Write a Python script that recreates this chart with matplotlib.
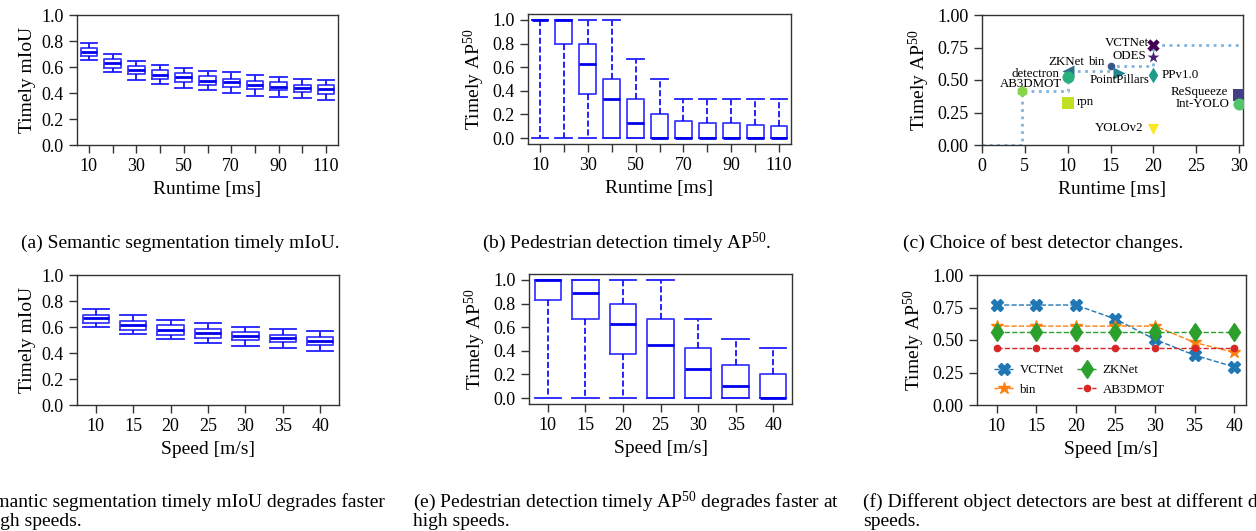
import numpy as np
import matplotlib
matplotlib.use('Agg')
import matplotlib.pyplot as plt

plt.rcParams['font.family'] = ['Liberation Serif', 'DejaVu Serif']
plt.rcParams['mathtext.fontset'] = 'custom'
plt.rcParams['mathtext.rm'] = 'Liberation Serif'
plt.rcParams['mathtext.it'] = 'Liberation Serif:italic'
plt.rcParams['mathtext.bf'] = 'Liberation Serif:bold'

# ---------------- data ----------------
runtime = [10, 20, 30, 40, 50, 60, 70, 80, 90, 100, 110]
speed = [10, 15, 20, 25, 30, 35, 40]

# (a) semantic segmentation timely mIoU vs runtime
a_whislo = [0.655, 0.56, 0.50, 0.468, 0.44, 0.42, 0.40, 0.38, 0.368, 0.36, 0.35]
a_q1 = [0.688, 0.596, 0.547, 0.506, 0.486, 0.463, 0.45, 0.43, 0.422, 0.409, 0.396]
a_med = [0.719, 0.63, 0.578, 0.54, 0.522, 0.496, 0.481, 0.463, 0.45, 0.44, 0.43]
a_q3 = [0.749, 0.66, 0.61, 0.575, 0.552, 0.529, 0.509, 0.494, 0.481, 0.465, 0.458]
a_whishi = [0.788, 0.70, 0.65, 0.616, 0.593, 0.573, 0.56, 0.537, 0.522, 0.51, 0.499]

# (b) pedestrian detection timely AP50 vs runtime
b_whislo = [0, 0, 0, 0, 0, 0, 0, 0, 0, 0, 0]
b_q1 = [1.0, 0.8, 0.37, 0, 0, 0, 0, 0, 0, 0, 0]
b_med = [1.0, 1.0, 0.625, 0.333, 0.125, 0, 0, 0, 0, 0, 0]
b_q3 = [1.0, 1.0, 0.8, 0.5, 0.333, 0.2, 0.143, 0.125, 0.125, 0.111, 0.1]
b_whishi = [1.0, 1.0, 1.0, 1.0, 0.667, 0.5, 0.333, 0.333, 0.333, 0.333, 0.333]

# (c) detectors: runtime [ms] and timely AP50
det_names = ['VCTNet', 'ODES', 'ReSqueeze', 'bin', 'ZKNet', 'PointPillars',
             'PPv1.0', 'detectron', 'Int-YOLO', 'AB3DMOT', 'rpn', 'YOLOv2']
det_runtime = [20, 20, 30, 15, 10, 16, 20, 10, 30, 4.63, 10, 20]
det_acc = [0.77, 0.68, 0.386, 0.609, 0.57, 0.557, 0.535, 0.52, 0.312, 0.417, 0.32, 0.123]

# (d) semantic segmentation timely mIoU vs speed
d_whislo = [0.597, 0.544, 0.505, 0.477, 0.456, 0.436, 0.418]
d_q1 = [0.633, 0.579, 0.541, 0.518, 0.497, 0.482, 0.462]
d_med = [0.667, 0.613, 0.574, 0.551, 0.531, 0.513, 0.492]
d_q3 = [0.692, 0.646, 0.613, 0.585, 0.562, 0.538, 0.526]
d_whishi = [0.736, 0.69, 0.654, 0.628, 0.603, 0.587, 0.569]

# (e) pedestrian detection timely AP50 vs speed
e_whislo = [0, 0, 0, 0, 0, 0, 0]
e_q1 = [0.831, 0.666, 0.374, 0, 0, 0, 0]
e_med = [1.0, 0.885, 0.624, 0.447, 0.25, 0.101, 0]
e_q3 = [1.0, 1.0, 0.795, 0.666, 0.424, 0.284, 0.2]
e_whishi = [1.0, 1.0, 1.0, 1.0, 0.666, 0.5, 0.427]

# (f) detectors AP50 vs speed
f_vctnet = [0.769, 0.769, 0.769, 0.661, 0.504, 0.383, 0.293]
f_bin = [0.607, 0.607, 0.607, 0.607, 0.607, 0.481, 0.404]
f_zknet = [0.563, 0.563, 0.563, 0.563, 0.563, 0.563, 0.563]
f_ab3dmot = [0.437, 0.437, 0.437, 0.437, 0.437, 0.437, 0.437]

# ---------------- style ----------------
det_markers = ['X', '*', 's', 'o', '<', '>', 'd', 'o', 'o', 'h', 's', 'v']
det_colors = ['#440154', '#482173', '#433e85', '#38588c', '#2d708e', '#25858e',
              '#1e9b8a', '#2ab07f', '#52c569', '#86d549', '#c2df23', '#fde725']
det_sizes = [80, 80, 75, 30, 75, 75, 65, 75, 75, 65, 65, 65]
# label offsets (points) and alignment
det_label_off = [(-3, 1.5), (-5, 0.5), (-8, 2), (-4, 3), (-1, 6.5), (0, -5),
                 (6, 0), (-6, 2.5), (-7, 0.5), (7, 5), (6.5, 1), (-7, 1)]
det_label_ha = ['right', 'right', 'right', 'right', 'center', 'center',
                'left', 'right', 'right', 'center', 'left', 'right']

W, H = 1256, 531
fig = plt.figure(figsize=(W / 100, H / 100), dpi=100)

SPINE = '#333333'
TICK_FS = 13
LABEL_FS = 14
SMALL_FS = 9.3


def add_ax(l, t, r, b):
    ax = fig.add_axes([l / W, 1 - b / H, (r - l) / W, (b - t) / H])
    for s in ax.spines.values():
        s.set_color(SPINE)
        s.set_linewidth(1.0)
    ax.tick_params(direction='out', length=5.5, width=1, color=SPINE,
                   labelsize=TICK_FS, pad=4)
    return ax


def draw_box(ax, cats, lo, q1, med, q3, hi, sparse):
    stats = []
    for i in range(len(cats)):
        stats.append(dict(whislo=lo[i], q1=q1[i], med=med[i], q3=q3[i],
                          whishi=hi[i], fliers=[], label=str(cats[i])))
    pos = np.arange(1, len(cats) + 1)
    ax.bxp(stats, positions=pos, widths=0.7, capwidths=0.7, showfliers=False,
           boxprops=dict(color='#3a3aff', linewidth=1.3),
           medianprops=dict(color='#0000ee', linewidth=2.0),
           whiskerprops=dict(color='#0000ff', linewidth=1.2, linestyle='--'),
           capprops=dict(color='#2020ff', linewidth=1.3))
    ax.set_xticks(pos)
    if sparse:
        ax.set_xticklabels([str(c) if i % 2 == 0 else '' for i, c in enumerate(cats)])
    else:
        ax.set_xticklabels([str(c) for c in cats])
    ax.set_xlim(0.5, len(cats) + 0.5)


ap_label = 'Timely AP$^{50}$'

# (a)
ax = add_ax(77, 15, 338, 145)
draw_box(ax, runtime, a_whislo, a_q1, a_med, a_q3, a_whishi, True)
ax.set_ylim(0, 1)
ax.set_yticks(np.arange(0, 1.01, 0.2))
ax.set_yticklabels(['%.1f' % v for v in np.arange(0, 1.01, 0.2)])
ax.set_xlabel('Runtime [ms]', fontsize=LABEL_FS)
ax.set_ylabel('Timely mIoU', fontsize=LABEL_FS)

# (b)
ax = add_ax(528, 14, 791, 144)
draw_box(ax, runtime, b_whislo, b_q1, b_med, b_q3, b_whishi, True)
ax.set_ylim(-0.05, 1.05)
ax.set_yticks(np.arange(0, 1.01, 0.2))
ax.set_yticklabels(['%.1f' % v for v in np.arange(0, 1.01, 0.2)])
ax.set_xlabel('Runtime [ms]', fontsize=LABEL_FS)
ax.set_ylabel(ap_label, fontsize=LABEL_FS)

# (c)
ax = add_ax(982, 15, 1243, 145)
xmax_c = 30.45
order = np.argsort(det_runtime, kind='stable')
fx, fy = [0.0], [0.0]
best = 0.0
for i in order:
    if det_acc[i] > best:
        if det_runtime[i] == fx[-1]:
            fy[-1] = det_acc[i]
        else:
            fx.append(det_runtime[i])
            fy.append(det_acc[i])
        best = det_acc[i]
fx.append(xmax_c + 1)
fy.append(best)
ax.step(fx, fy, where='post', linestyle=':', color='#7fb4dd', linewidth=2.0, zorder=1)
for i, name in enumerate(det_names):
    ax.scatter(det_runtime[i], det_acc[i], marker=det_markers[i], s=det_sizes[i],
               color=det_colors[i], linewidths=0, zorder=3, clip_on=True)
    ax.annotate(name, (det_runtime[i], det_acc[i]), xytext=det_label_off[i],
                textcoords='offset points', ha=det_label_ha[i], va='center',
                fontsize=SMALL_FS, zorder=4)
ax.set_xlim(0, xmax_c)
ax.set_ylim(0, 1)
ax.set_xticks(np.arange(0, 31, 5))
ax.set_yticks(np.arange(0, 1.01, 0.25))
ax.set_yticklabels(['%.2f' % v for v in np.arange(0, 1.01, 0.25)])
ax.set_xlabel('Runtime [ms]', fontsize=LABEL_FS)
ax.set_ylabel(ap_label, fontsize=LABEL_FS)

# (d)
ax = add_ax(77, 275, 339, 405)
draw_box(ax, speed, d_whislo, d_q1, d_med, d_q3, d_whishi, False)
ax.set_ylim(0, 1)
ax.set_yticks(np.arange(0, 1.01, 0.2))
ax.set_yticklabels(['%.1f' % v for v in np.arange(0, 1.01, 0.2)])
ax.set_xlabel('Speed [m/s]', fontsize=LABEL_FS)
ax.set_ylabel('Timely mIoU', fontsize=LABEL_FS)

# (e)
ax = add_ax(529, 274, 792, 404)
draw_box(ax, speed, e_whislo, e_q1, e_med, e_q3, e_whishi, False)
ax.set_ylim(-0.05, 1.05)
ax.set_yticks(np.arange(0, 1.01, 0.2))
ax.set_yticklabels(['%.1f' % v for v in np.arange(0, 1.01, 0.2)])
ax.set_xlabel('Speed [m/s]', fontsize=LABEL_FS)
ax.set_ylabel(ap_label, fontsize=LABEL_FS)

# (f)
ax = add_ax(977, 275, 1246, 405)
ax.plot(speed, f_vctnet, '--', marker='X', color='tab:blue', lw=1, ms=9, label='VCTNet')
ax.plot(speed, f_bin, '--', marker='*', color='tab:orange', lw=1, ms=9, label='bin')
ax.plot(speed, f_zknet, '--', marker='d', color='tab:green', lw=1, ms=9.5, label='ZKNet')
ax.plot(speed, f_ab3dmot, '--', marker='o', color='tab:red', lw=1, ms=4.5, label='AB3DMOT')
ax.set_xlim(7.5, 41.5)
ax.set_ylim(0, 1)
ax.set_xticks(speed)
ax.set_yticks(np.arange(0, 1.01, 0.25))
ax.set_yticklabels(['%.2f' % v for v in np.arange(0, 1.01, 0.25)])
ax.set_xlabel('Speed [m/s]', fontsize=LABEL_FS)
ax.set_ylabel(ap_label, fontsize=LABEL_FS)
ax.legend(ncol=2, loc='lower left', bbox_to_anchor=(0.02, -0.02), frameon=False,
          fontsize=SMALL_FS, handlelength=1.5, handletextpad=0.5, columnspacing=1.0,
          labelspacing=0.6)

# ---------------- captions ----------------
CAP_FS = 14
fig.text(180 / W, 1 - 243 / H, '(a) Semantic segmentation timely mIoU.',
         ha='center', va='center', fontsize=CAP_FS)
fig.text(627 / W, 1 - 243 / H, '(b) Pedestrian detection timely AP$^{50}$.',
         ha='center', va='center', fontsize=CAP_FS)
fig.text(1043 / W, 1 - 243 / H, '(c) Choice of best detector changes.',
         ha='center', va='center', fontsize=CAP_FS)

fig.text(385 / W, 1 - 502 / H, '(d) Semantic segmentation timely mIoU degrades faster',
         ha='right', va='center', fontsize=CAP_FS)
fig.text(-15 / W, 1 - 521 / H, 'high speeds.', ha='left', va='center', fontsize=CAP_FS)
fig.text(413 / W, 1 - 502 / H, '(e) Pedestrian detection timely AP$^{50}$ degrades faster at',
         ha='left', va='center', fontsize=CAP_FS)
fig.text(413 / W, 1 - 521 / H, 'high speeds.', ha='left', va='center', fontsize=CAP_FS)
fig.text(863 / W, 1 - 502 / H, '(f) Different object detectors are best at different driving',
         ha='left', va='center', fontsize=CAP_FS)
fig.text(863 / W, 1 - 521 / H, 'speeds.', ha='left', va='center', fontsize=CAP_FS)

fig.savefig('out.png', dpi=100)
